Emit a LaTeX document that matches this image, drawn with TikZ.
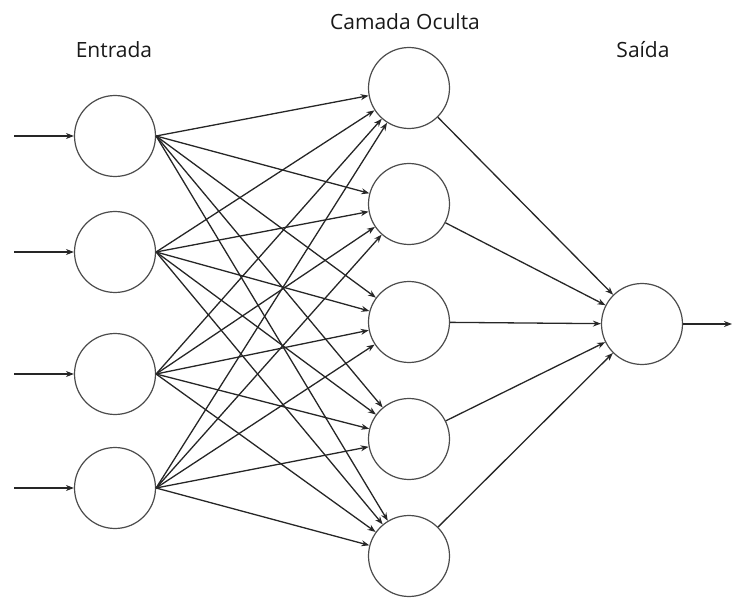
\documentclass[tikz,border=0pt]{standalone}
\usepackage{fontspec}
\setmainfont{Open Sans}
\usetikzlibrary{arrows.meta}
\begin{document}
\begin{tikzpicture}[x=1pt,y=-1pt,
  neuron/.style={circle,draw=black!70,line width=1.2pt,minimum size=81pt,inner sep=0pt},
  conn/.style={draw=black!85,line width=1.3pt,-{Stealth[length=8pt,width=6pt]}},
  lbl/.style={font=\fontsize{21}{24}\selectfont,text=black!90}]
\useasboundingbox (0,0) rectangle (732,599);
% input layer
\node[neuron] (i1) at (115,136) {};
\node[neuron] (i2) at (115,252) {};
\node[neuron] (i3) at (115,374) {};
\node[neuron] (i4) at (115,488) {};
% hidden layer
\node[neuron] (h1) at (409,88) {};
\node[neuron] (h2) at (409,204) {};
\node[neuron] (h3) at (409,322) {};
\node[neuron] (h4) at (409,439) {};
\node[neuron] (h5) at (409,556) {};
% output
\node[neuron] (o) at (642,324) {};
% labels
\node[lbl] (le) at (114,50) {Entrada};
\node[lbl] (lc) at (405,22) {Camada Oculta};
\node[lbl] (ls) at (643,50) {Saída};
% free ends
\coordinate (a1) at (14,136);
\coordinate (a2) at (14,252);
\coordinate (a3) at (14,374);
\coordinate (a4) at (14,488);
\coordinate (ao) at (732,324);
\foreach \k in {1,2,3,4}{
  \draw[conn] (a\k) -- (i\k.west);
  \foreach \h in {1,2,3,4,5}{
    \draw[conn] (i\k.east) -- (h\h);
  }
}
\foreach \h in {1,2,3,4,5}{
  \draw[conn] (h\h) -- (o);
}
\draw[conn] (o.east) -- (ao);
\end{tikzpicture}
\end{document}
